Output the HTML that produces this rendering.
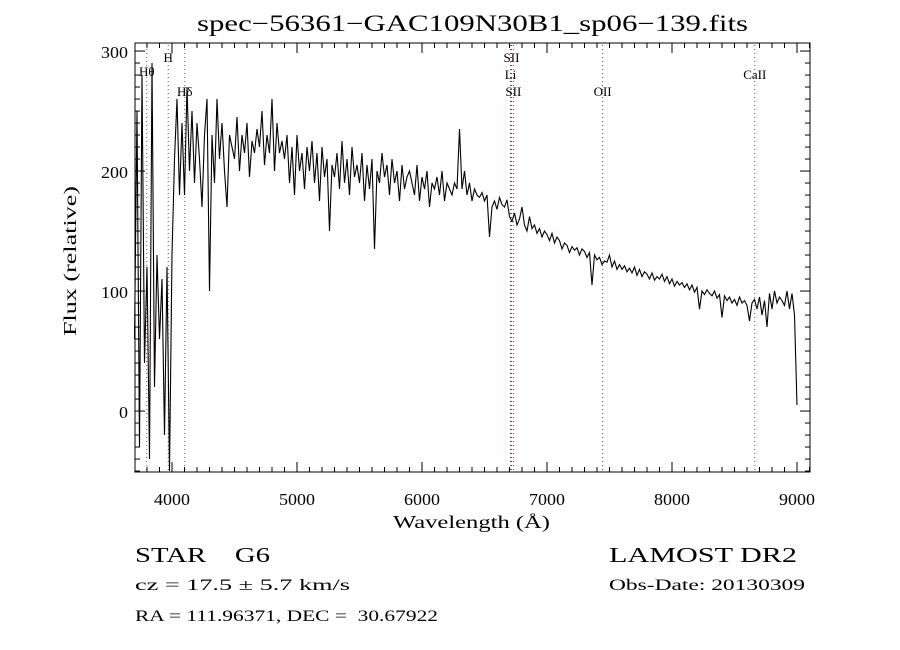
<!DOCTYPE html>
<html><head><meta charset="utf-8"><style>
html,body{margin:0;padding:0;background:#fff;}
svg{display:block;font-family:"Liberation Serif",serif;}
</style></head><body>
<svg id="chart" width="900" height="650" viewBox="0 0 900 650">
<rect width="900" height="650" fill="#fff"/>
<text x="197" y="31" font-size="23" textLength="551" lengthAdjust="spacingAndGlyphs">spec−56361−GAC109N30B1_sp06−139.fits</text>
<g id="lines"></g>
<g id="ticks"></g>
<path id="spec" fill="none" stroke="#000" stroke-width="1.1"/>
<rect x="135" y="43" width="675" height="429" fill="none" stroke="#000" stroke-width="1"/>
<text x="393" y="528" font-size="18" textLength="157" lengthAdjust="spacingAndGlyphs">Wavelength (Å)</text>
<text transform="translate(76,336) rotate(-90)" font-size="18" textLength="150" lengthAdjust="spacingAndGlyphs">Flux (relative)</text>
<text x="135" y="562" font-size="21" xml:space="preserve" textLength="135" lengthAdjust="spacingAndGlyphs">STAR    G6</text>
<text x="135" y="590" font-size="16" textLength="215" lengthAdjust="spacingAndGlyphs">cz = 17.5 ± 5.7 km/s</text>
<text x="135" y="621" font-size="16" xml:space="preserve" textLength="303" lengthAdjust="spacingAndGlyphs">RA = 111.96371, DEC =  30.67922</text>
<text x="609" y="562" font-size="21" textLength="188" lengthAdjust="spacingAndGlyphs">LAMOST DR2</text>
<text x="609" y="590" font-size="16" textLength="196" lengthAdjust="spacingAndGlyphs">Obs-Date: 20130309</text>
</svg>
<script>
const wlStart = 3700;
const wlStep = 20;
const flux = [
60,250,-30,280,40,120,-40,290,20,130,
60,110,-20,120,-50,130,210,260,180,240,
180,270,200,250,190,240,210,170,230,260,
100,230,190,260,210,240,200,170,230,220,
210,245,200,230,215,240,195,225,215,235,
220,250,205,230,215,260,200,240,215,225,
210,230,190,220,180,230,200,215,185,220,
200,225,190,215,175,220,195,210,150,205,
195,215,185,225,190,210,180,220,195,205,
190,215,175,205,185,210,135,200,190,215,
195,205,180,210,190,200,175,205,185,195,
200,190,180,205,175,195,185,200,170,190,
185,195,180,200,175,190,185,180,190,185,
235,185,200,180,190,175,185,180,178,182,
175,180,145,170,175,168,178,172,170,176,
162,158,165,155,160,170,155,150,162,152,
155,148,152,145,150,147,142,148,140,145,
142,135,140,138,132,137,134,136,130,135,
133,128,132,105,130,126,128,122,125,124,
130,120,125,118,122,118,121,116,119,115,
120,113,118,112,116,114,110,115,109,112,
110,114,108,112,106,110,104,108,105,107,
103,106,101,105,99,103,85,100,97,101,
98,96,100,94,97,78,96,92,95,90,
93,88,95,90,92,88,75,90,93,85,
95,80,92,70,98,85,100,90,95,92,
88,100,85,98,80,5];
const xTicks = [4000,5000,6000,7000,8000,9000];
const yTicks = [0,100,200,300];
const lineWl = [3798,3970,4102,6708,6716,6731,7445,8662];
const lineNames = ["Hθ","H","Hδ","Li","SII","SII","OII","CaII"];
const lineLabelY = [76,62,96,79,62,96,96,79];

const X0=135,X1=810,Y0=472,Y1=43;
const xmin=3704,xmax=9104,ymin=-50.8,ymax=306.7;
const xs=w=>X0+(w-xmin)/(xmax-xmin)*(X1-X0);
const ys=f=>Y0-(f-ymin)/(ymax-ymin)*(Y0-Y1);
const NS='http://www.w3.org/2000/svg';
function mk(tag,attrs,parent){const e=document.createElementNS(NS,tag);for(const k in attrs)e.setAttribute(k,attrs[k]);parent.appendChild(e);return e;}

let d='';
flux.forEach((f,i)=>{const x=xs(wlStart+i*wlStep),y=Math.max(Y1,Math.min(Y0,ys(f)));d+=(i?'L':'M')+x.toFixed(1)+','+y.toFixed(1);});
document.getElementById('spec').setAttribute('d',d);

const tg=document.getElementById('ticks');
const svg=document.getElementById('chart');
for(let w=3800;w<=9100;w+=100){
  const x=xs(w),big=w%1000===0,L=big?10:5;
  const t1=mk('line',{x1:x,x2:x,y1:Y0,y2:Y0-L,stroke:'#000'},tg);
  
  
  const t2=mk('line',{x1:x,x2:x,y1:Y1,y2:Y1+L,stroke:'#000'},tg);
  
  
}
for(let v=-50;v<=300;v+=10){
  const y=ys(v),big=v%100===0,L=big?10:5;
  const t1=mk('line',{x1:X0,x2:X0+L,y1:y,y2:y,stroke:'#000'},tg);
  
  
  const t2=mk('line',{x1:X1,x2:X1-L,y1:y,y2:y,stroke:'#000'},tg);
  
  
}
xTicks.forEach(w=>{
  const t=mk('text',{x:xs(w),y:505,'font-size':17,'text-anchor':'middle',textLength:36,lengthAdjust:'spacingAndGlyphs'},svg);
  t.textContent=w;
  
  
});
yTicks.forEach(v=>{
  const s=String(v);
  const t=mk('text',{x:128,y:ys(v)+7,'font-size':17,'text-anchor':'end',textLength:9*s.length,lengthAdjust:'spacingAndGlyphs'},svg);
  t.textContent=s;
  
  
});
const lg=document.getElementById('lines');
lineWl.forEach((w,i)=>{
  const x=xs(w);
  const l=mk('line',{x1:x,x2:x,y1:Y1+2,y2:Y0,stroke:'#8a4040','stroke-width':1,'stroke-dasharray':'1,3'},lg);
  
  
  const t=mk('text',{x:x,y:lineLabelY[i],'font-size':13,'text-anchor':'middle'},lg);
  t.textContent=lineNames[i];
  
  
});
</script>
</body></html>
